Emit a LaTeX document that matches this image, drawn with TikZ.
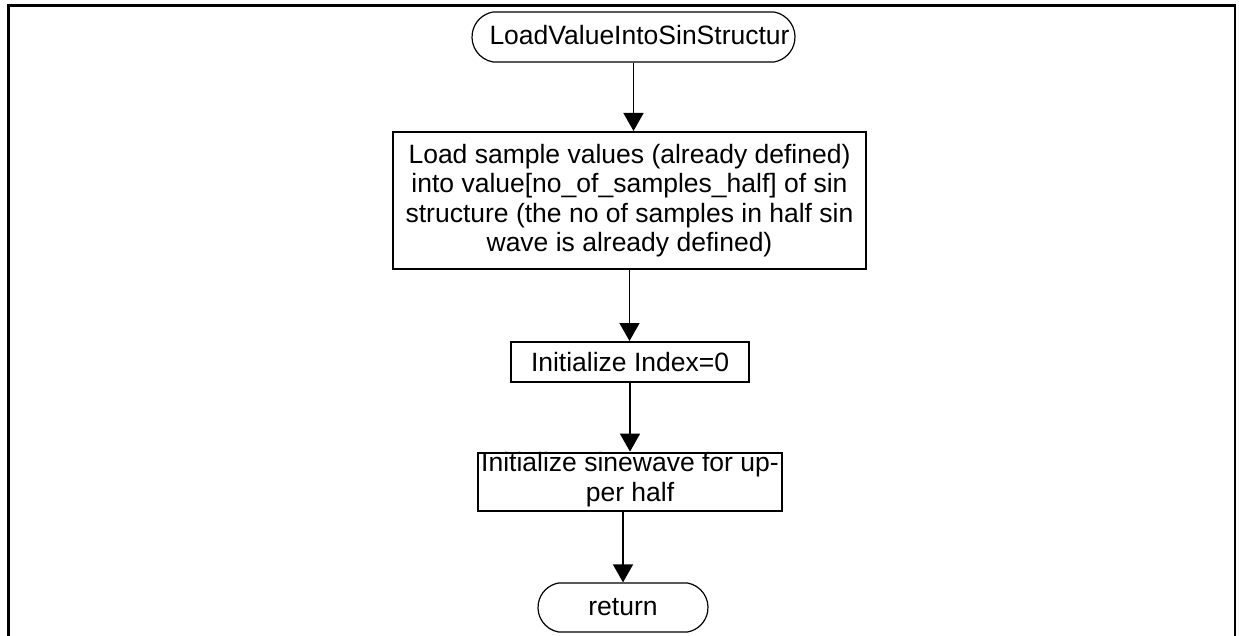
\documentclass[tikz,border=0pt]{standalone}
\usepackage{fontspec}
\setmainfont{Liberation Sans}
\usetikzlibrary{arrows.meta,shapes.misc}

\begin{document}
\begin{tikzpicture}[x=1pt,y=-1pt,
    every node/.style={font=\fontsize{26.5}{29.5}\selectfont},
    term/.style={draw,line width=1.2pt,rounded rectangle,rounded rectangle arc length=160,minimum height=50pt,inner xsep=0pt,inner ysep=0pt},
    proc/.style={draw,line width=2pt,rectangle,align=center,inner sep=0pt},
    arr/.style={line width=1.5pt,-{Triangle[width=20pt,length=18pt]}}]
    \useasboundingbox (0,0) rectangle (1239,636);
    \draw[line width=2.5pt] (8.5,640) -- (8.5,5.5) -- (1235,5.5) -- (1235,640);
    \node[term,minimum width=323pt] (start) at (633.5,37) {\raisebox{5pt}{\makebox[288pt][l]{LoadValueIntoSinStructur}}};
    \node[proc,minimum width=473pt,minimum height=137pt] (load) at (629.5,200.5)
        {Load sample values (already defined)\\into value[no\_of\_samples\_half] of sin\\structure (the no of samples in half sin\\wave is already defined)};
    \node[proc,minimum width=238pt,minimum height=40pt] (init) at (630,362) {\makebox[226pt][l]{\hspace{14pt}Initialize Index=0}};
    \node[proc,minimum width=304pt,minimum height=58pt] (sine) at (630,482) {Initialize sinewave for up-\\per half\rule[-10pt]{0pt}{0pt}};
    \node[term,minimum width=170pt,minimum height=49pt] (ret) at (623,607.5) {return};
    \draw[arr] (start.south) -- (start.south |- load.north);
    \draw[arr] (load.south) -- (load.south |- init.north);
    \draw[arr] (init.south) -- (init.south |- sine.north);
    \draw[arr] (ret.north |- sine.south) -- (ret.north);
\end{tikzpicture}
\end{document}
